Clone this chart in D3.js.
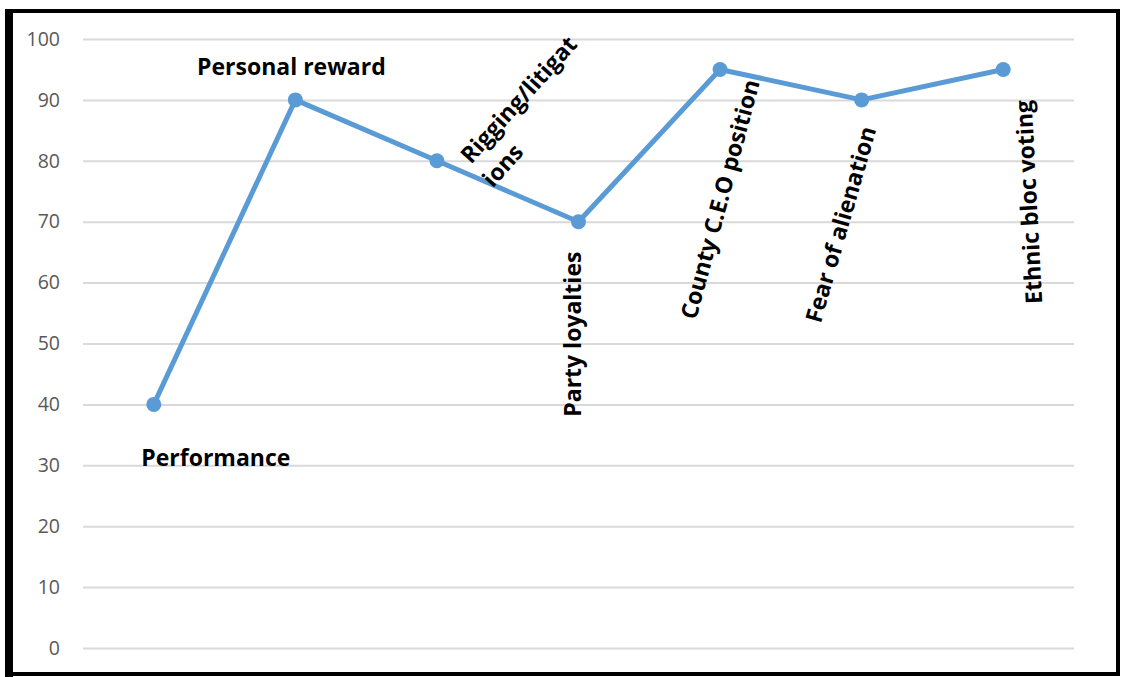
<!DOCTYPE html>
<html>
<head>
<meta charset="utf-8">
<script src="https://cdn.jsdelivr.net/npm/d3@7"></script>
<style>
  body { margin: 0; background: #fff; }
  svg { display: block; }
</style>
</head>
<body>
<div id="chart"></div>
<script>
// chart values
var categories = ["Performance", "Personal reward", "Rigging/litigations", "Party loyalties",
  "County C.E.O position", "Fear of alienation", "Ethnic bloc voting"];
var scores = [40, 90, 80, 70, 95, 90, 95];
var yTicks = [0, 10, 20, 30, 40, 50, 60, 70, 80, 90, 100];
var labelLines = [["Performance"], ["Personal reward"], ["Rigging/litigat", "ions"], ["Party loyalties"],
  ["County C.E.O position"], ["Fear of alienation"], ["Ethnic bloc voting"]];

var svgWidth = 1121;
var svgHeight = 677;
var margin = { top: 39, right: 47, bottom: 29, left: 83 };
var width = svgWidth - margin.left - margin.right;
var height = svgHeight - margin.top - margin.bottom;

var svg = d3.select("#chart")
  .append("svg")
  .attr("width", svgWidth)
  .attr("height", svgHeight);

// outer frame
svg.append("rect")
  .attr("x", 9).attr("y", 11)
  .attr("width", 1109).attr("height", 663)
  .attr("fill", "none")
  .attr("stroke", "#000")
  .attr("stroke-width", 4);
svg.append("rect")
  .attr("x", 5).attr("y", 9)
  .attr("width", 8).attr("height", 668)
  .attr("fill", "#000");

var chartGroup = svg.append("g")
  .attr("transform", `translate(${margin.left}, ${margin.top})`);

var xScale = d3.scaleBand()
  .domain(categories)
  .range([0, width]);

var yScale = d3.scaleLinear()
  .domain([0, 100])
  .range([height, 0]);

// gridlines + y labels
var leftAxis = d3.axisLeft(yScale)
  .tickValues(yTicks)
  .tickSize(-width)
  .tickPadding(23);

var yAxisG = chartGroup.append("g").call(leftAxis);
yAxisG.select(".domain").remove();
yAxisG.selectAll(".tick line")
  .attr("stroke", "#d9d9d9")
  .attr("stroke-width", 2);
yAxisG.selectAll(".tick text")
  .attr("fill", "#595959")
  .style("font-family", "'Open Sans', sans-serif")
  .style("font-size", "19.5px");

// line
var cx = d => xScale(d) + xScale.bandwidth() / 2;
var line = d3.line()
  .x((d, i) => cx(categories[i]))
  .y(d => yScale(d));

chartGroup.append("path")
  .datum(scores)
  .attr("d", line)
  .attr("fill", "none")
  .attr("stroke", "#5b9bd5")
  .attr("stroke-width", 5)
  .attr("stroke-linejoin", "round");

chartGroup.selectAll("circle")
  .data(scores)
  .enter()
  .append("circle")
  .attr("cx", (d, i) => cx(categories[i]))
  .attr("cy", d => yScale(d))
  .attr("r", 7.5)
  .attr("fill", "#5b9bd5");

// data labels: offset from the point and rotation
var labelPlace = [
  { dx: 62, dy: 62, rot: 0, anchor: "middle" },
  { dx: -4, dy: -25, rot: 0, anchor: "middle" },
  { dx: 34, dy: 4, rot: -48, anchor: "start" },
  { dx: 2, dy: 195, rot: -90, anchor: "start" },
  { dx: -24, dy: 251, rot: -75, anchor: "start" },
  { dx: -41, dy: 224, rot: -74, anchor: "start" },
  { dx: 39, dy: 234, rot: -93, anchor: "start" }
];

var labels = chartGroup.selectAll(".dlabel")
  .data(scores)
  .enter()
  .append("text")
  .attr("class", "dlabel")
  .attr("transform", (d, i) => {
    var p = labelPlace[i];
    return `translate(${cx(categories[i]) + p.dx}, ${yScale(d) + p.dy}) rotate(${p.rot})`;
  })
  .attr("text-anchor", (d, i) => labelPlace[i].anchor)
  .style("font-family", "'Open Sans', sans-serif")
  .style("font-weight", "bold")
  .style("font-size", "23px")
  .attr("fill", "#000");

labels.each(function(d, i) {
  var t = d3.select(this);
  labelLines[i].forEach(function(s, j) {
    t.append("tspan")
      .attr("x", j ? -3 : null)
      .attr("dy", j ? 32 : null)
      .text(s);
  });
});
</script>
</body>
</html>
